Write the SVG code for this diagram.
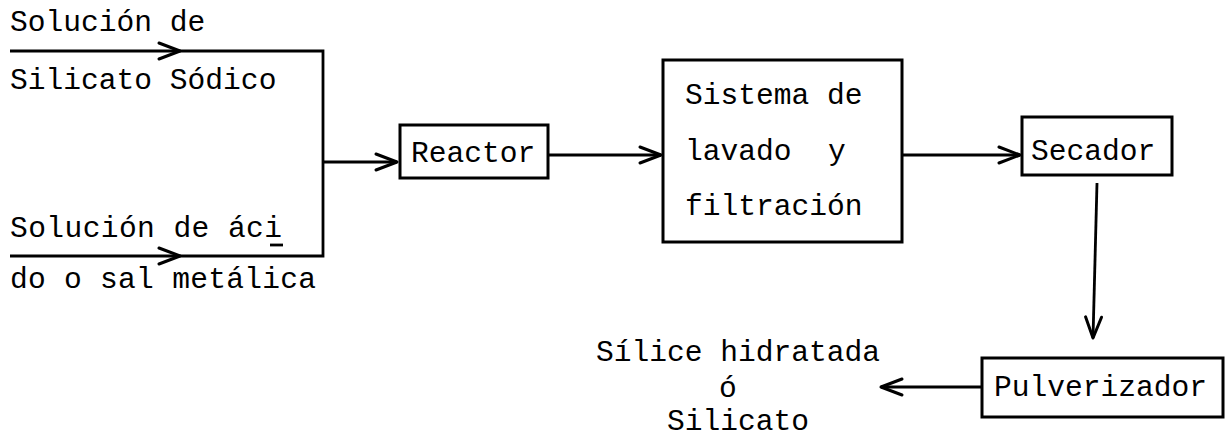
<svg xmlns="http://www.w3.org/2000/svg" width="1227" height="438" viewBox="0 0 1227 438">
<style>
text{font-family:"Liberation Mono","DejaVu Sans Mono",monospace;font-size:29.6px;fill:#000}
.box{fill:none;stroke:#000;stroke-width:3}
.ln{fill:none;stroke:#000;stroke-width:2.8}
</style>
<defs>
<marker id="ah" markerUnits="userSpaceOnUse" viewBox="-24 -12 28 24" refX="0" refY="0" markerWidth="28" markerHeight="24" orient="auto">
<path d="M-21,-8 L0,0 L-21,8" fill="none" stroke="#000" stroke-width="3" stroke-linecap="round" stroke-linejoin="round"/>
</marker>
</defs>
<rect width="1227" height="438" fill="#fff"/>
<g id="connectors">
<path class="ln" d="M10,51 L180,51" marker-end="url(#ah)"/>
<path class="ln" d="M180,51 L323,51 L323,256 L180,256"/>
<path class="ln" d="M10,256 L180,256" marker-end="url(#ah)"/>
<path class="ln" d="M323,162 L397,162" marker-end="url(#ah)"/>
<path class="ln" d="M548,155 L661,155" marker-end="url(#ah)"/>
<path class="ln" d="M902,155 L1020,155" marker-end="url(#ah)"/>
<path class="ln" d="M1097,183 L1093,338" marker-end="url(#ah)"/>
<path class="ln" d="M982,387 L881,387" marker-end="url(#ah)"/>
</g>
<g id="input-silicato">
<text x="10" y="31">Solución de</text>
<text x="10" y="89">Silicato Sódico</text>
</g>
<g id="input-acido">
<text x="10" y="237" textLength="272" lengthAdjust="spacing">Solución de áci</text>
<path class="ln" d="M270,245 L283,245" stroke-width="2.5"/>
<text x="10" y="288" textLength="306" lengthAdjust="spacing">do o sal metálica</text>
</g>
<g id="reactor">
<rect class="box" x="400" y="125" width="148" height="53"/>
<text x="411" y="162">Reactor</text>
</g>
<g id="lavado">
<rect class="box" x="663" y="60" width="239" height="182"/>
<text x="685" y="104">Sistema de</text>
<text x="685" y="160">lavado</text>
<text x="828" y="160">y</text>
<text x="685" y="215">filtración</text>
</g>
<g id="secador">
<rect class="box" x="1022" y="117" width="150" height="58"/>
<text x="1031" y="160">Secador</text>
</g>
<g id="pulverizador">
<rect class="box" x="982" y="358" width="241" height="59"/>
<text x="994" y="396">Pulverizador</text>
</g>
<g id="producto">
<text x="738" y="361" text-anchor="middle">Sílice hidratada</text>
<text x="728" y="397" text-anchor="middle">ó</text>
<text x="738" y="430" text-anchor="middle">Silicato</text>
</g>
</svg>
